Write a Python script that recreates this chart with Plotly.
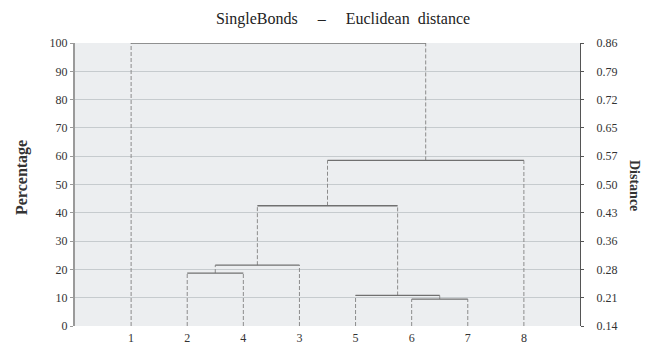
import plotly.graph_objects as go

# ---- data ----
leaf_labels = ['1', '2', '4', '3', '5', '6', '7', '8']
# merges: (left child, right child, height in %) ; children are leaf labels or merge ids 'cN'
merge_ids = ['c1', 'c2', 'c3', 'c4', 'c5', 'c6', 'c7']
merge_left = ['2', 'c1', '6', '5', 'c2', 'c5', '1']
merge_right = ['4', '3', '7', 'c3', 'c4', '8', 'c6']
merge_height = [18.7, 21.5, 9.5, 10.8, 42.5, 58.5, 100.0]

pct_ticks = [0, 10, 20, 30, 40, 50, 60, 70, 80, 90, 100]
dist_ticks = ['0.14', '0.21', '0.28', '0.36', '0.43', '0.50', '0.57', '0.65', '0.72', '0.79', '0.86']

# ---- build dendrogram geometry from data ----
pos = {lab: i + 1 for i, lab in enumerate(leaf_labels)}
hgt = {lab: 0.0 for lab in leaf_labels}
hx, hy, vx, vy = [], [], [], []
for mid, a, b, h in zip(merge_ids, merge_left, merge_right, merge_height):
    xa, xb = pos[a], pos[b]
    hx += [xa, xb, None]
    hy += [h, h, None]
    vx += [xa, xa, None, xb, xb, None]
    vy += [hgt[a], h, None, hgt[b], h, None]
    pos[mid] = (xa + xb) / 2
    hgt[mid] = h

serif = "Liberation Serif, Times New Roman, serif"

# page is rendered with an 8px body margin -> work in figure coordinates
W, H = 648, 338
L, R, T, B = 67, 76, 35, 20

fig = go.Figure()
fig.add_trace(go.Scatter(x=vx, y=vy, mode='lines', line=dict(color='#8c8c8c', width=1, dash='4px,2px'),
                         hoverinfo='skip', showlegend=False))
fig.add_trace(go.Scatter(x=hx, y=hy, mode='lines', line=dict(color='#707070', width=1.3),
                         hoverinfo='skip', showlegend=False))
fig.add_trace(go.Scatter(x=[None], y=[None], yaxis='y2', showlegend=False, hoverinfo='skip'))

pw, ph = W - L - R, H - T - B


def px(x):
    return (x - L) / pw


def py(y):
    return (H - B - y) / ph


fig.update_layout(
    width=W, height=H,
    margin=dict(l=L, r=R, t=T, b=B, autoexpand=False),
    paper_bgcolor='white', plot_bgcolor='#eceef0',
    font=dict(family=serif, size=12, color='#333'),
    title=dict(text='SingleBonds\u00a0\u00a0\u00a0\u00a0\u00a0\u2013\u00a0\u00a0\u00a0\u00a0\u00a0Euclidean\u00a0\u00a0distance',
               x=px(335), xanchor='center', xref='paper',
               y=1 - 10 / H, yanchor='middle', font=dict(family=serif, size=16, color='#222')),
    xaxis=dict(range=[0, 9], tickvals=list(range(1, len(leaf_labels) + 1)), ticktext=leaf_labels,
               showgrid=False, zeroline=False, showline=False, ticks='', ticklabelstandoff=3,
               automargin=False, tickfont=dict(size=12, color='#333')),
    yaxis=dict(range=[0, 100], tickvals=pct_ticks, showgrid=True, gridcolor='#c6cbce', gridwidth=1,
               zeroline=False, showline=True, linecolor='#9a9a9a', linewidth=2, automargin=False,
               ticks='outside', ticklen=3, tickcolor='#9a9a9a', tickfont=dict(size=12, color='#333')),
    yaxis2=dict(range=[0, 100], overlaying='y', side='right', tickvals=pct_ticks, ticktext=dist_ticks,
                showgrid=False, zeroline=False, showline=True, linecolor='#555', linewidth=1,
                automargin=False,
                ticks='outside', ticklen=3, tickcolor='#555', ticklabelstandoff=10,
                tickfont=dict(size=12, color='#333')),
    annotations=[
        dict(text='<b>Percentage</b>', textangle=-90, x=px(14), y=py(170), xref='paper', yref='paper',
             xanchor='center', yanchor='middle',
             showarrow=False, font=dict(family=serif, size=16, color='#333')),
        dict(text='<b>Distance</b>', textangle=90, x=px(627), y=py(177), xref='paper', yref='paper',
             xanchor='center', yanchor='middle',
             showarrow=False, font=dict(family=serif, size=14, color='#333')),
    ],
)

fig.write_html("out.html")
